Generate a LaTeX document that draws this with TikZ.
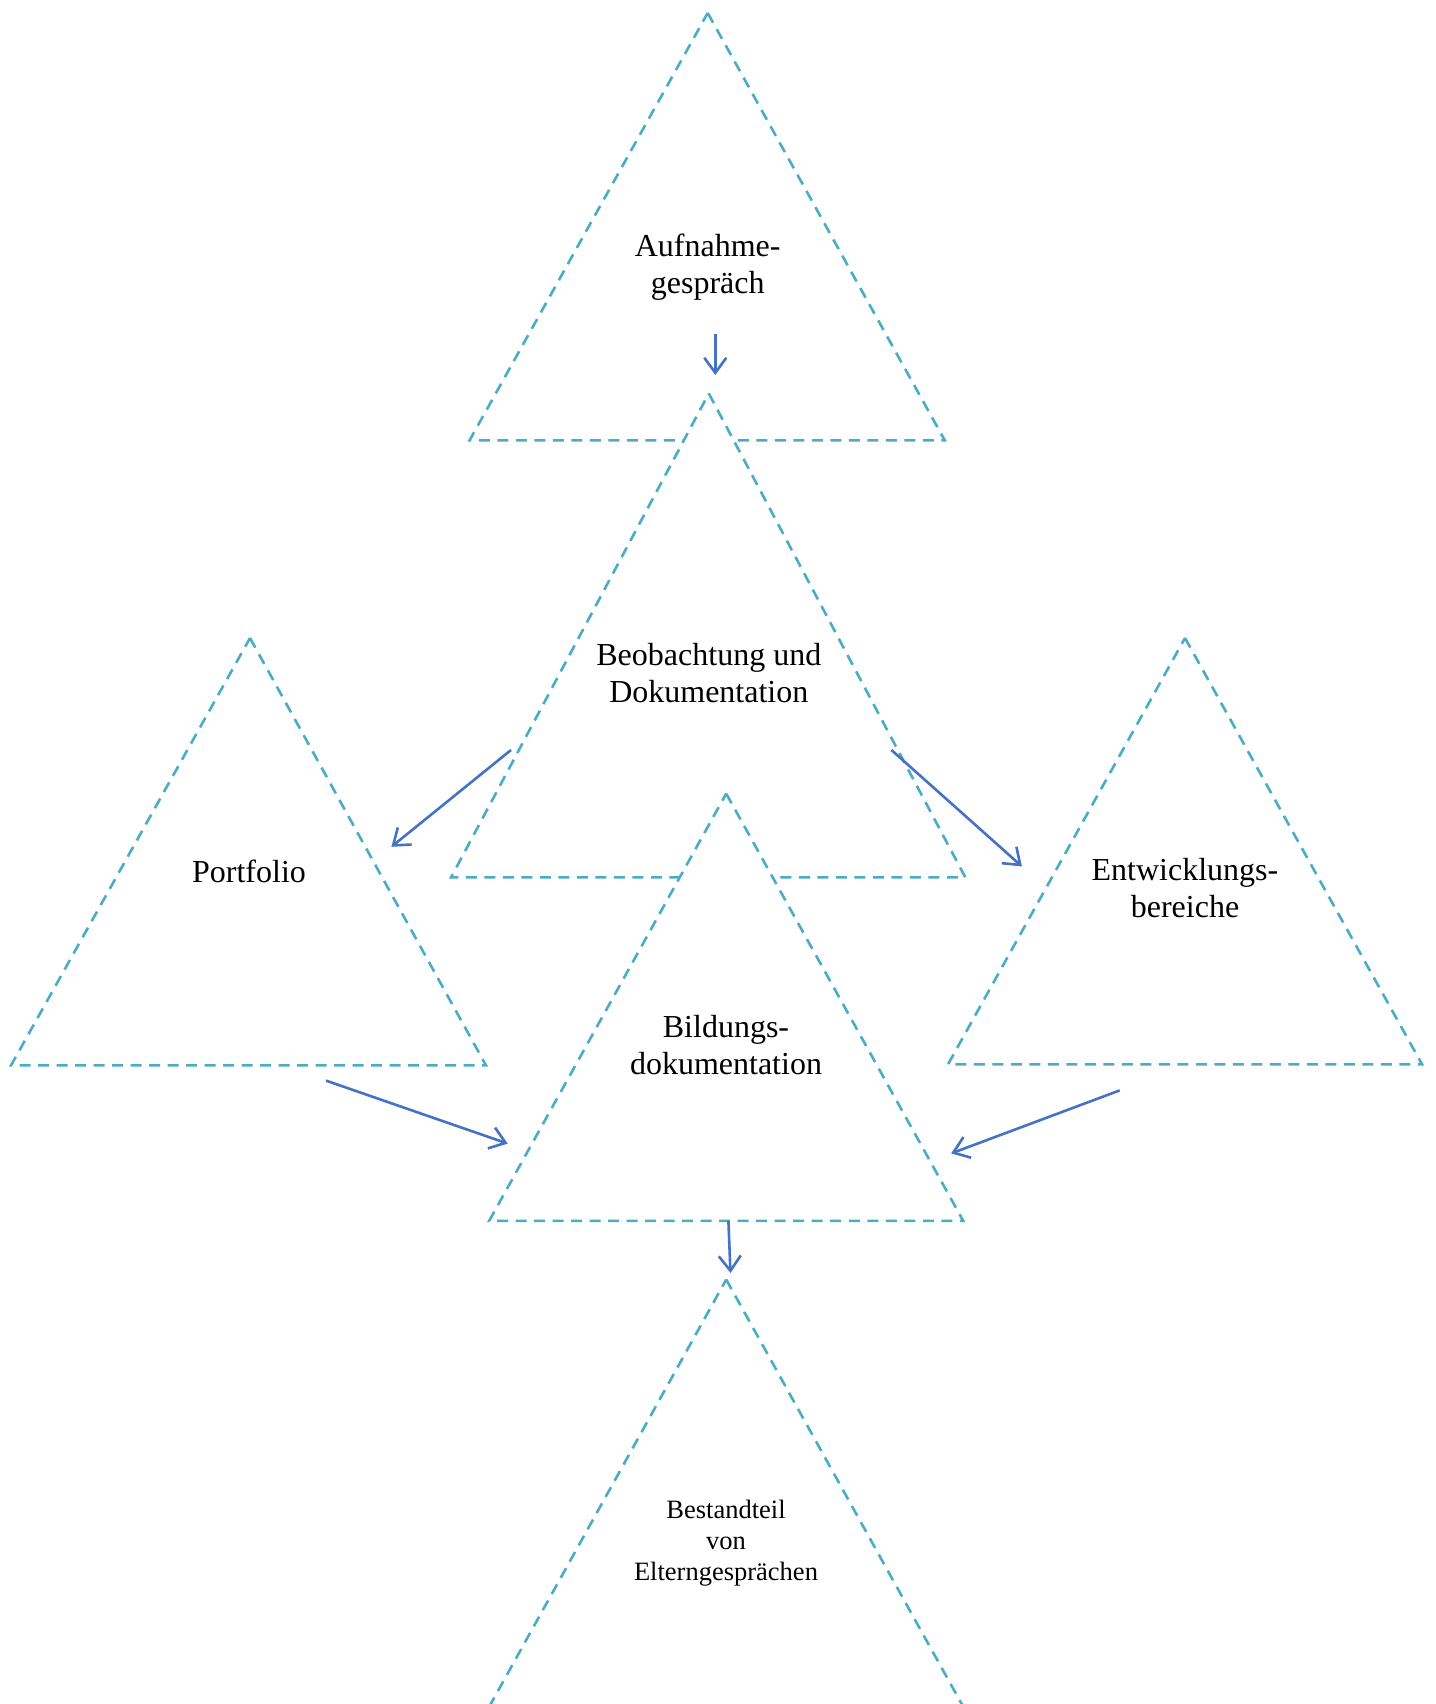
\documentclass[tikz,border=0pt]{standalone}
\usepackage{fontspec}
\setmainfont{Liberation Serif}
\usetikzlibrary{arrows.meta}
\definecolor{triblue}{HTML}{4BACC6}
\definecolor{arrblue}{HTML}{4472C4}
\tikzset{
  tri/.style={draw=triblue, line width=2.6pt, dash pattern=on 11pt off 7.5pt, fill=white},
  flow/.style={draw=arrblue, line width=2.6pt, -{Straight Barb[length=15pt,width=22pt,line width=2.6pt]}},
  lbl/.style={align=center, font=\fontsize{32}{36.5}\selectfont, inner sep=0pt},
  lblsmall/.style={align=center, font=\fontsize{26.5}{31}\selectfont, inner sep=0pt}
}
\begin{document}
\begin{tikzpicture}[x=1pt,y=-1pt]
\useasboundingbox (0,0) rectangle (1435,1704);
\clip (0,0) rectangle (1435,1704);
% triangles
\path[tri] (707.7,13) -- (944.7,440.3) -- (469.6,440.3) -- cycle;
\path[tri] (708.8,393.5) -- (965.3,877.3) -- (451.1,877.3) -- cycle;
\path[tri] (250,638) -- (486,1065.4) -- (11,1065.4) -- cycle;
\path[tri] (1185,638) -- (1422,1064.3) -- (948,1064.3) -- cycle;
\path[tri] (726.2,793.6) -- (963.2,1220.8) -- (489.2,1220.8) -- cycle;
\path[tri] (726.2,1279.5) -- (963.2,1706.7) -- (489.2,1706.7) -- cycle;
% labels
\node[lbl] (auf) at (707.7,267) {Aufnahme-\\gespräch};
\node[lbl] (beo) at (708.8,673) {Beobachtung und\\Dokumentation};
\node[lbl] (por) at (249,871) {Portfolio};
\node[lbl] (ent) at (1185,888) {Entwicklungs-\\bereiche};
\node[lbl] (bil) at (726,1045) {Bildungs-\\dokumentation};
\node[lblsmall] (bes) at (726,1543) {Bestandteil\\von\\Elterngesprächen};
% arrow end points
\coordinate (a1s) at (715.3,333.7); \coordinate (a1e) at (715.3,375);
\coordinate (a2s) at (511,750);     \coordinate (a2e) at (391.4,846.8);
\coordinate (a3s) at (891.4,750);   \coordinate (a3e) at (1021.9,866.4);
\coordinate (a4s) at (326,1080.6);  \coordinate (a4e) at (507.7,1143.6);
\coordinate (a5s) at (1119.7,1090.4); \coordinate (a5e) at (951.2,1153.4);
\coordinate (a6s) at (728.4,1220.8); \coordinate (a6e) at (730.5,1273);
\draw[flow] (a1s) -- (a1e);
\draw[flow] (a2s) -- (a2e);
\draw[flow] (a3s) -- (a3e);
\draw[flow] (a4s) -- (a4e);
\draw[flow] (a5s) -- (a5e);
\draw[flow] (a6s) -- (a6e);
\end{tikzpicture}
\end{document}
